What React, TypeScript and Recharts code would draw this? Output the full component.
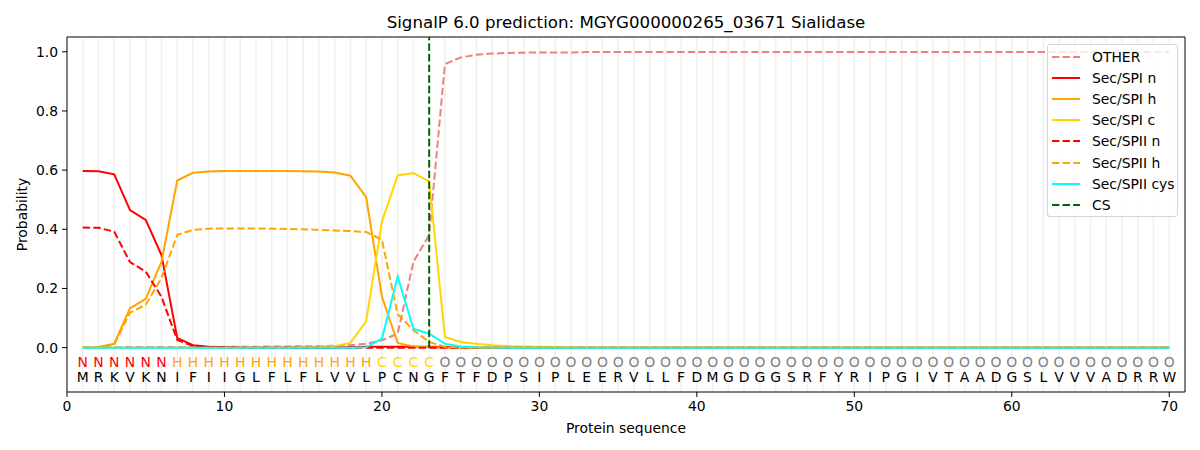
import {
  ComposedChart,
  Line,
  Scatter,
  XAxis,
  YAxis,
  ReferenceLine,
  Legend,
} from "recharts";

const sequence = "MRKVKNIFIIGLFLFLVVLPCNGFTFDPSIPLEERVLLFDMGDGGSRFYRIPGIVTAADGSLVVVADRRW";
const regions = "NNNNNNHHHHHHHHHHHHHCCCCOOOOOOOOOOOOOOOOOOOOOOOOOOOOOOOOOOOOOOOOOOOOOOO";

const other = [
  0.001, 0.001, 0.001, 0.002, 0.002, 0.002, 0.002, 0.002, 0.003, 0.003,
  0.003, 0.003, 0.004, 0.004, 0.005, 0.005, 0.006, 0.008, 0.013, 0.025,
  0.047, 0.29, 0.381, 0.958, 0.981, 0.99, 0.994, 0.996, 0.997, 0.998,
  0.998, 0.998, 0.999, 0.999, 0.999, 0.999, 0.999, 0.999, 0.999, 0.999,
  0.999, 0.999, 0.999, 0.999, 0.999, 0.999, 0.999, 0.999, 0.999, 0.999,
  0.999, 0.999, 0.999, 0.999, 0.999, 0.999, 0.999, 0.999, 0.999, 0.999,
  0.999, 0.999, 0.999, 0.999, 0.999, 0.999, 0.999, 0.999, 0.999, 0.999,
];
const spiN = [
  0.597, 0.596, 0.586, 0.465, 0.432, 0.313, 0.033, 0.008, 0.003, 0.001,
  0, 0, 0, 0, 0, 0, 0, 0.001, 0.003, 0.003,
  0.003, 0.003, 0.003, 0.002, 0.001, 0, 0, 0, 0, 0,
  ...Array(40).fill(0),
];
const spiH = [
  0, 0.002, 0.013, 0.133, 0.165, 0.29, 0.565, 0.591, 0.595, 0.597,
  0.597, 0.597, 0.597, 0.597, 0.596, 0.595, 0.592, 0.581, 0.509, 0.172,
  0.016, 0.004, 0.001, 0, 0, 0, 0, 0, 0, 0,
  ...Array(40).fill(0),
];
const spiC = [
  0, 0, 0, 0, 0, 0, 0, 0, 0, 0,
  0, 0, 0, 0, 0.001, 0.002, 0.005, 0.016, 0.089, 0.426,
  0.582, 0.59, 0.562, 0.036, 0.019, 0.013, 0.008, 0.005, 0.004, 0.003,
  0.002, 0.001, ...Array(38).fill(0),
];
const spiiN = [
  0.406, 0.405, 0.392, 0.289, 0.257, 0.172, 0.026, 0.006, 0.002, 0.001,
  0, 0, 0, 0, 0, 0, 0, 0, 0, 0,
  ...Array(50).fill(0),
];
const spiiH = [
  0, 0.002, 0.01, 0.118, 0.145, 0.235, 0.381, 0.398, 0.402, 0.403,
  0.403, 0.403, 0.402, 0.401, 0.4, 0.398, 0.396, 0.394, 0.391, 0.365,
  0.113, 0.059, 0.019, 0.003, 0.001, 0, 0, 0, 0, 0,
  ...Array(40).fill(0),
];
const spiiCys = [
  0, 0, 0, 0, 0, 0, 0, 0, 0, 0,
  0, 0, 0, 0, 0, 0, 0, 0, 0.001, 0.03,
  0.24, 0.064, 0.047, 0.013, 0.004, 0.001, 0, 0, 0, 0,
  ...Array(40).fill(0),
];
const cleavageSite = 23;
const xDomain = [0, 71];
const yDomain = [-0.15, 1.05];
const xTicks = [0, 10, 20, 30, 40, 50, 60, 70];
const yTicks = [0, 0.2, 0.4, 0.6, 0.8, 1.0];

const series = [
  { key: "other", name: "OTHER", color: "#f08080", dashed: true },
  { key: "spiN", name: "Sec/SPI n", color: "#ff0000", dashed: false },
  { key: "spiH", name: "Sec/SPI h", color: "#ffa500", dashed: false },
  { key: "spiC", name: "Sec/SPI c", color: "#ffd700", dashed: false },
  { key: "spiiN", name: "Sec/SPII n", color: "#ff0000", dashed: true },
  { key: "spiiH", name: "Sec/SPII h", color: "#ffa500", dashed: true },
  { key: "spiiCys", name: "Sec/SPII cys", color: "#00ffff", dashed: false },
];

const regionColors: Record<string, string> = {
  N: "#ff0000",
  H: "#ffa500",
  C: "#ffd700",
  O: "#808080",
};

const rows = sequence.split("").map((aa, i) => ({
  x: i + 1,
  other: other[i],
  spiN: spiN[i],
  spiH: spiH[i],
  spiC: spiC[i],
  spiiN: spiiN[i],
  spiiH: spiiH[i],
  spiiCys: spiiCys[i],
}));

const regionRow = regions.split("").map((r, i) => ({ x: i + 1, y: -0.047, letter: r, color: regionColors[r] }));
const aaRow = sequence.split("").map((aa, i) => ({ x: i + 1, y: -0.1, letter: aa, color: "#000000" }));

const FONT = "'DejaVu Sans', sans-serif";
const DASH = "7.4 3.2";

const letterShape = (props: any) => {
  const { cx, cy, payload } = props;
  return (
    <text
      x={cx}
      y={cy}
      textAnchor="middle"
      dominantBaseline="central"
      fontSize={13.9}
      fontFamily={FONT}
      fill={payload.color}
    >
      {payload.letter}
    </text>
  );
};

const legendItems = [
  ...series.map((s) => ({ name: s.name, color: s.color, dashed: s.dashed })),
  { name: "CS", color: "#006400", dashed: true },
];

const renderLegend = () => (
  <div
    style={{
      width: 129,
      height: 170,
      border: "1px solid #d5d5d5",
      borderRadius: 3,
      background: "rgba(255,255,255,0.8)",
      boxSizing: "content-box",
      fontFamily: FONT,
      fontSize: 13.9,
      paddingTop: 1,
    }}
  >
    {legendItems.map((it) => (
      <div key={it.name} style={{ display: "flex", alignItems: "center", height: 21.2 }}>
        <svg width={44} height={10} style={{ flex: "none" }}>
          <line
            x1={4}
            x2={32}
            y1={5}
            y2={5}
            stroke={it.color}
            strokeWidth={2}
            strokeDasharray={it.dashed ? DASH : undefined}
          />
        </svg>
        <span style={{ color: "#000", whiteSpace: "nowrap" }}>{it.name}</span>
      </div>
    ))}
  </div>
);

export default function App() {
  return (
    <div style={{ position: "absolute", left: 0, top: 0, width: 1200, height: 450, background: "#fff" }}>
      <div
        style={{
          position: "absolute",
          left: 67,
          width: 1118,
          top: 13,
          textAlign: "center",
          fontFamily: FONT,
          fontSize: 16.67,
          color: "#000",
        }}
      >
        SignalP 6.0 prediction: MGYG000000265_03671 Sialidase
      </div>
      <ComposedChart width={1200} height={450} data={rows} margin={{ top: 37, right: 15, bottom: 0, left: 0 }}>
        {rows.map((r) => (
          <ReferenceLine key={`g-${r.x}`} x={r.x} stroke="#d3d3d3" strokeOpacity={0.35} strokeWidth={1.5} />
        ))}
        <XAxis
          dataKey="x"
          type="number"
          domain={xDomain}
          ticks={xTicks}
          height={58}
          tickSize={5}
          tickMargin={4}
          axisLine={{ stroke: "#000" }}
          tickLine={{ stroke: "#000" }}
          tick={{ fill: "#000", fontSize: 13.9, fontFamily: FONT }}
          allowDataOverflow
          label={{
            value: "Protein sequence",
            position: "insideBottom",
            offset: 17,
            fill: "#000",
            fontSize: 13.9,
            fontFamily: FONT,
          }}
        />
        <YAxis
          type="number"
          domain={yDomain}
          ticks={yTicks}
          width={67}
          tickSize={5}
          tickMargin={4}
          allowDataOverflow
          tickFormatter={(v: number) => v.toFixed(1)}
          axisLine={{ stroke: "#000" }}
          tickLine={{ stroke: "#000" }}
          tick={{ fill: "#000", fontSize: 13.9, fontFamily: FONT }}
          label={{
            content: (p: any) => {
              const vb = p.viewBox;
              const cx = vb.x + 22;
              const cy = vb.y + vb.height / 2;
              return (
                <text
                  x={cx}
                  y={cy}
                  transform={`rotate(-90 ${cx} ${cy})`}
                  textAnchor="middle"
                  dominantBaseline="central"
                  fontSize={13.9}
                  fontFamily={FONT}
                  fill="#000"
                >
                  Probability
                </text>
              );
            },
          }}
        />
        {/* top and right spines */}
        <ReferenceLine y={yDomain[1]} stroke="#000" strokeWidth={1} ifOverflow="visible" />
        <ReferenceLine x={xDomain[1]} stroke="#000" strokeWidth={1} ifOverflow="visible" />
        {series.map((s) => (
          <Line
            key={s.key}
            dataKey={s.key}
            name={s.name}
            type="linear"
            stroke={s.color}
            strokeWidth={2}
            strokeDasharray={s.dashed ? DASH : undefined}
            dot={false}
            activeDot={false}
            isAnimationActive={false}
          />
        ))}
        <ReferenceLine
          segment={[
            { x: cleavageSite, y: 0 },
            { x: cleavageSite, y: 1.05 },
          ]}
          stroke="#006400"
          strokeWidth={2}
          strokeDasharray={DASH}
        />
        <Scatter data={regionRow} dataKey="y" shape={letterShape} isAnimationActive={false} />
        <Scatter data={aaRow} dataKey="y" shape={letterShape} isAnimationActive={false} />
        <Legend
          layout="horizontal"
          verticalAlign="middle"
          align="center"
          wrapperStyle={{ left: 1047, top: 44, width: "auto", height: "auto" }}
          content={renderLegend}
        />
      </ComposedChart>
    </div>
  );
}
